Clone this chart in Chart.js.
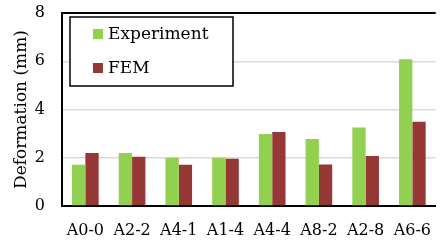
<!DOCTYPE html>
<html>
<head>
<meta charset="utf-8">
<script src="https://cdn.jsdelivr.net/npm/chart.js@4.4.1/dist/chart.umd.min.js"></script>
<style>
  html, body { margin: 0; padding: 0; background: #fff; overflow: hidden; }
  #wrap { width: 446px; height: 244px; position: relative; }
</style>
</head>
<body>
<div id="wrap"><canvas id="chart"></canvas></div>
<script>
const categories = ['A0-0', 'A2-2', 'A4-1', 'A1-4', 'A4-4', 'A8-2', 'A2-8', 'A6-6'];
const experiment = [1.71, 2.2, 2.0, 2.0, 2.98, 2.78, 3.25, 6.08];
const fem = [2.2, 2.04, 1.71, 1.96, 3.07, 1.72, 2.07, 3.49];
const seriesNames = ['Experiment', 'FEM'];
const yTicks = [0, 2, 4, 6, 8];

const SERIF = '"DejaVu Serif", serif';

// legend drawn as a framed box inside the plot, top-left
const boxLegend = {
  id: 'boxLegend',
  afterDatasetsDraw(chart) {
    const { ctx, chartArea } = chart;
    const x = chartArea.left + 8, y = chartArea.top + 4;
    const w = 163, h = 69;
    ctx.save();
    ctx.fillStyle = '#fff';
    ctx.fillRect(x, y, w, h);
    ctx.strokeStyle = '#000';
    ctx.lineWidth = 1.5;
    ctx.strokeRect(x, y, w, h);
    ctx.font = '17px ' + SERIF;
    ctx.textBaseline = 'middle';
    chart.data.datasets.forEach((ds, i) => {
      const cy = y + 17 + i * 34;
      ctx.fillStyle = ds.backgroundColor;
      ctx.fillRect(x + 23, cy - 5, 10, 10);
      ctx.fillStyle = '#000';
      ctx.fillText(ds.label, x + 38, cy + 1);
    });
    ctx.restore();
  }
};

new Chart(document.getElementById('chart'), {
  type: 'bar',
  data: {
    labels: categories,
    datasets: [
      { label: seriesNames[0], data: experiment, backgroundColor: '#92D050' },
      { label: seriesNames[1], data: fem, backgroundColor: '#953735' }
    ]
  },
  options: {
    responsive: true,
    maintainAspectRatio: false,
    animation: false,
    layout: { padding: 0 },
    datasets: { bar: { categoryPercentage: 0.57, barPercentage: 1.0 } },
    plugins: { legend: { display: false }, tooltip: { enabled: false } },
    scales: {
      x: {
        grid: { display: false, drawTicks: false },
        border: { color: '#000', width: 2 },
        ticks: { color: '#000', font: { family: SERIF, size: 16 }, padding: 15, maxRotation: 0 },
        afterFit(scale) { scale.height = 38; }
      },
      y: {
        min: 0,
        max: 8,
        afterBuildTicks(scale) { scale.ticks = yTicks.map(v => ({ value: v })); },
        grid: {
          drawTicks: false,
          color: c => c.tick.value === 8 ? '#000' : (c.tick.value === 0 ? 'rgba(0,0,0,0)' : '#d9d9d9'),
          lineWidth: c => c.tick.value === 8 ? 2 : 1.5
        },
        border: { color: '#000', width: 2 },
        ticks: { color: '#000', font: { family: SERIF, size: 16 }, padding: 17 },
        title: {
          display: true,
          text: 'Deformation (mm)',
          color: '#000',
          font: { family: SERIF, size: 17 },
          padding: { top: 11, bottom: 0 }
        },
        afterFit(scale) {
          scale.width = 62;
          scale.paddingTop = 13;
          scale.paddingBottom = 0;
        }
      }
    }
  },
  plugins: [boxLegend]
});
</script>
</body>
</html>
